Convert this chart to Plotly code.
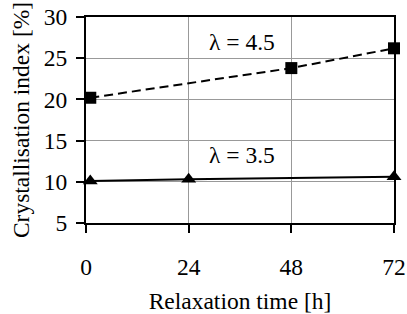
import plotly.graph_objects as go

time_h = [1, 48, 72]
ci_45 = [20.2, 23.8, 26.2]
time_h_35 = [1, 24, 72]
ci_35 = [10.1, 10.3, 10.6]
x_ticks = [0, 24, 48, 72]
y_ticks = [5, 10, 15, 20, 25, 30]

font = "Times New Roman, Liberation Serif, serif"
fs = 23.5

fig = go.Figure()
fig.add_trace(go.Scatter(x=time_h, y=ci_45, mode="lines+markers",
                         line=dict(color="black", width=2, dash="9px,5px"),
                         marker=dict(symbol="square", size=12, color="black"),
                         showlegend=False, cliponaxis=False))
fig.add_trace(go.Scatter(x=time_h_35, y=ci_35, mode="lines+markers",
                         line=dict(color="black", width=2),
                         marker=dict(symbol="triangle-up", size=13, color="black"),
                         showlegend=False, cliponaxis=False))

fig.add_annotation(x=36.5, y=27.0, text="λ = 4.5", showarrow=False,
                   font=dict(family=font, size=fs, color="black"))
fig.add_annotation(x=36.5, y=13.3, text="λ = 3.5", showarrow=False,
                   font=dict(family=font, size=fs, color="black"))

fig.update_xaxes(range=[0, 72], tickvals=x_ticks, showgrid=True, gridcolor="#999999",
                 gridwidth=1, showline=True, linecolor="black", linewidth=2, mirror=True,
                 ticks="outside", ticklen=8, tickwidth=2, tickcolor="black",
                 zeroline=False, ticklabelstandoff=14, ticklabeloverflow="allow",
                 title=dict(text="Relaxation time [h]", standoff=18,
                            font=dict(family=font, size=fs, color="black")),
                 tickfont=dict(family=font, size=fs, color="black"))
fig.update_yaxes(range=[5, 30], tickvals=y_ticks, showgrid=True, gridcolor="#999999",
                 gridwidth=1, showline=True, linecolor="black", linewidth=2, mirror=True,
                 ticks="outside", ticklen=8, tickwidth=2, tickcolor="black",
                 zeroline=False, ticklabelstandoff=4, ticklabeloverflow="allow",
                 title=dict(text="Crystallisation index [%]", standoff=8,
                            font=dict(family=font, size=fs, color="black")),
                 tickfont=dict(family=font, size=fs, color="black"))

fig.update_layout(width=407, height=314, margin=dict(l=86, r=13, t=17, b=91, autoexpand=False),
                  plot_bgcolor="white", paper_bgcolor="white",
                  font=dict(family=font, color="black", size=fs))

fig.write_html("out.html", config={"displayModeBar": False},
               post_script="document.body.style.margin='0';document.body.style.overflow='hidden';")
